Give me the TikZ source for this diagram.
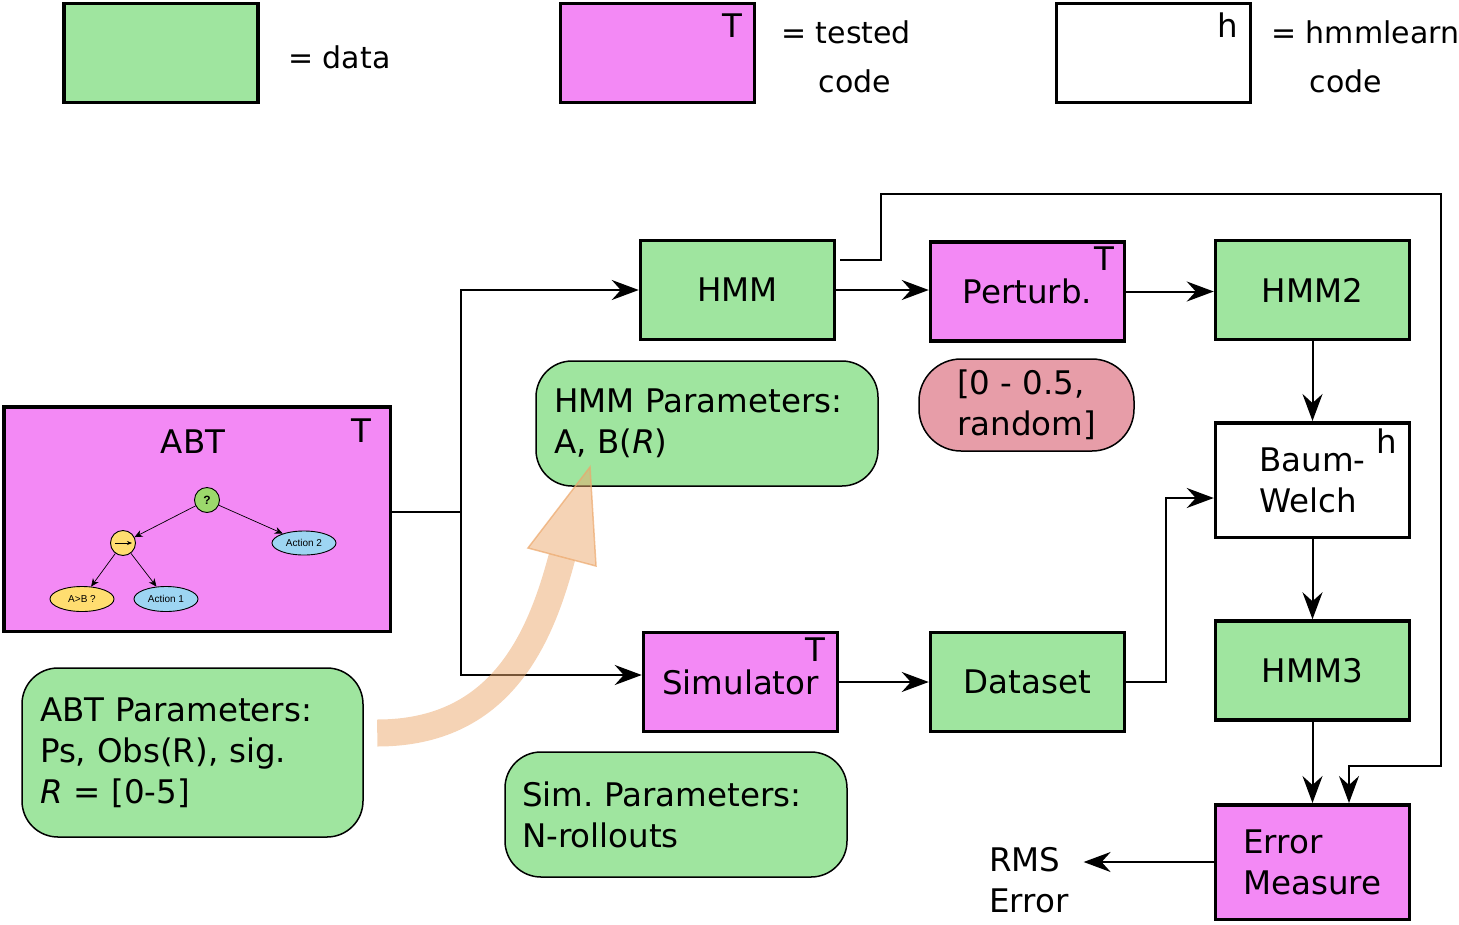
\documentclass[tikz,border=0pt]{standalone}
\usepackage{fontspec}
\setmainfont{DejaVu Sans}
\newfontfamily\treefont{Liberation Sans}
\usetikzlibrary{arrows.meta,shapes.geometric}
\definecolor{dgreen}{HTML}{9FE59F}
\definecolor{tmag}{HTML}{F389F5}
\definecolor{rpink}{HTML}{E79DA8}
\definecolor{bandcol}{RGB}{236,168,108}
\definecolor{tgreen}{HTML}{9CD86C}
\definecolor{tyel}{HTML}{FFDD70}
\definecolor{tblue}{HTML}{9DD5F2}
\frenchspacing
\begin{document}
\begin{tikzpicture}[x=1pt,y=-1pt,
  >={Stealth[length=27pt,width=20pt,inset=9pt]},
  every node/.style={font=\fontsize{32.5}{41}\selectfont, inner sep=0pt},
  box/.style={draw, line width=3.5pt, minimum width=194pt, minimum height=99pt},
  databox/.style={box, fill=dgreen},
  testbox/.style={box, fill=tmag},
  hmmbox/.style={box, fill=white},
  param/.style={draw, line width=1.5pt, rounded corners=36pt, fill=dgreen, align=left, inner xsep=18pt},
  conn/.style={line width=2pt},
  corner/.style={anchor=base east},
  legtext/.style={font=\fontsize{30}{36}\selectfont, anchor=base west},
  tnode/.style={draw, line width=0.9pt, font=\treefont\fontsize{10}{11}\selectfont},
  tarr/.style={line width=0.7pt, -{Stealth[length=8pt,width=7pt,inset=2.5pt]}}
]
\useasboundingbox (0,0) rectangle (1459,924);

% ---------- legend ----------
\node[databox] (legdata) at (161,53) {};
\node[legtext] (legdatat) at (288,68) {= data};
\node[testbox] (legtest) at (657.5,53) {};
\node[corner] (legtestT) at ([xshift=-14pt,yshift=-36pt]legtest.north east) {T};
\node[legtext] (legtestt) at (781,43) {= tested};
\node[legtext, anchor=base] (legtestc) at (855,92) {code};
\node[hmmbox] (leghmm) at (1153.5,53) {};
\node[corner] (leghmmh) at ([xshift=-14pt,yshift=-36pt]leghmm.north east) {h};
\node[legtext] (leghmmt) at (1271,43) {= hmmlearn};
\node[legtext, anchor=base] (leghmmc) at (1346,92) {code};

% ---------- main boxes ----------
\node[databox] (hmm) at (737.5,290) {HMM};
\node[testbox] (pert) at (1027.5,291.5) {Perturb.};
\node[corner] (pertT) at ([xshift=-12pt,yshift=-30pt]pert.north east) {T};
\node[databox] (hmm2) at (1312.5,290) {HMM2};
\node[param, fill=rpink, rounded corners=42pt, minimum width=215pt, minimum height=92pt] (rand) at (1026.5,405) {[0 - 0.5,\\random]};
\node[param, text width=306pt, minimum height=125pt] (hmmp) at (707,423.5) {HMM Parameters:\\A, B(\textit{R})};

\node[testbox, minimum width=386.5pt, minimum height=224.5pt] (abt) at (197,519) {};
\node[anchor=base] (abtt) at (193,453) {ABT};
\node[corner] (abtT) at ([xshift=-20pt,yshift=-37pt]abt.north east) {T};

\node[param, text width=305pt, minimum height=169pt] (abtp) at (192.5,752.5) {ABT Parameters:\\Ps, Obs(R), sig.\\\textit{R} = [0-5]};

\node[hmmbox, minimum height=114.5pt, align=left] (baum) at (1312.5,480) {Baum-\\Welch};
\node[corner] (baumh) at ([xshift=-14pt,yshift=-32pt]baum.north east) {h};
\node[databox] (hmm3) at (1312.5,670.5) {HMM3};
\node[testbox] (sim) at (740.5,682) {Simulator};
\node[corner] (simT) at ([xshift=-14pt,yshift=-31pt]sim.north east) {T};
\node[databox] (dset) at (1027.5,682) {Dataset};
\node[testbox, minimum height=114.5pt, align=left] (err) at (1312.5,862) {Error\\Measure};
\node[anchor=west, align=left] (rms) at (989,880) {RMS\\Error};
\node[param, inner xsep=17pt, text width=308pt, minimum height=125pt] (simp) at (676,814.5) {Sim. Parameters:\\N-rollouts};

% ---------- tree inside ABT ----------
\node[tnode, circle, fill=tgreen, minimum size=25pt, font=\treefont\bfseries\fontsize{12}{12}\selectfont] (tq) at (207,500) {?};
\node[tnode, circle, fill=tyel, minimum size=25pt] (tseq) at (123,543) {};
\draw[line width=0.7pt, -{Stealth[length=5pt,width=4pt]}] ([xshift=-8pt]tseq.center) -- ([xshift=9pt]tseq.center);
\node[tnode, ellipse, fill=tblue, minimum width=64pt, minimum height=24pt] (ta2) at (304,543) {Action 2};
\node[tnode, ellipse, fill=tyel, minimum width=64pt, minimum height=25pt] (tab) at (82,599) {A>B ?};
\node[tnode, ellipse, fill=tblue, minimum width=64pt, minimum height=25pt] (ta1) at (166,599) {Action 1};
\draw[tarr] (tq) -- (tseq);
\draw[tarr] (tq) -- (ta2);
\draw[tarr] (tseq) -- (tab);
\draw[tarr] (tseq) -- (ta1);

% ---------- connectors ----------
\coordinate (split) at (461,512);
\draw[conn] (abt.east |- split) -- (split);
\draw[conn,->] (split) |- (hmm.west);
\draw[conn,->] (split) |- ([yshift=7pt]sim.west);
\draw[conn,->] (hmm.east) -- (hmm.east -| pert.west);
\draw[conn,->] (pert.east) -- (pert.east -| hmm2.west);
\coordinate (fb1) at (881,194);
\coordinate (fb2) at (1441,766);
\draw[conn,->] ([xshift=4pt,yshift=30pt]hmm.east) -| (fb1) -| (fb2) -| ([xshift=36.5pt]err.north);
\draw[conn,->] (hmm2.south) -- (baum.north);
\draw[conn,->] (baum.south) -- (hmm3.north);
\draw[conn,->] (hmm3.south) -- (err.north);
\draw[conn,->] (sim.east) -- (dset.west);
\coordinate (dsb) at (1166,682);
\draw[conn,->] (dset.east) -- (dsb) |- ([yshift=-18pt]baum.west);
\draw[conn,->] (err.west) -- ([xshift=15pt]rms.east |- err.west);

% ---------- orange arrow ----------
\coordinate (bandend) at (562,557);
\draw[bandcol, line width=27pt, opacity=0.5] ([xshift=13.5pt,yshift=19.5pt]abtp.east) .. controls (500,733) and (540,640) .. (bandend);
\filldraw[fill=bandcol, draw=bandcol, line width=1.5pt, fill opacity=0.5, draw opacity=0.7] (528,548) -- (596,566) -- (590,467) -- cycle;
\end{tikzpicture}
\end{document}
